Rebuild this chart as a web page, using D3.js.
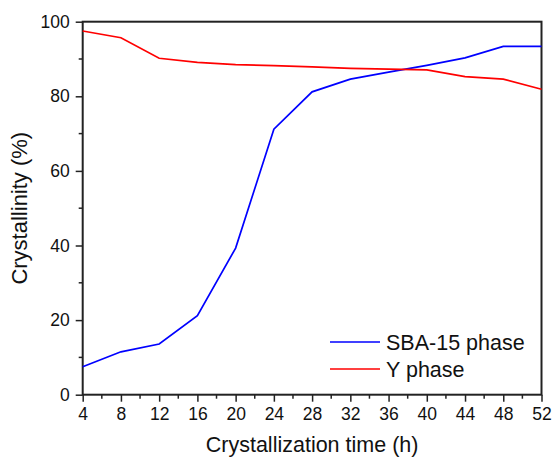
<!DOCTYPE html>
<html><head><meta charset="utf-8">
<script src="https://cdn.jsdelivr.net/npm/d3@7"></script>
<style>body{margin:0;background:#fff}svg{display:block}text{font-family:"Liberation Sans",Arial,sans-serif;fill:#111}</style>
</head><body><svg id="c" width="552" height="458"></svg>
<script>
const hours = [4,8,12,16,20,24,28,32,36,40,44,48,52];
const sbaValues = [7.5,11.5,13.6,21.2,39.3,71.2,81.2,84.6,86.5,88.3,90.3,93.4,93.4];
const yValues = [97.5,95.7,90.2,89.1,88.5,88.2,87.9,87.5,87.3,87.1,85.3,84.6,81.9];
const xTicks = [4,8,12,16,20,24,28,32,36,40,44,48,52];
const yTicks = [0,20,40,60,80,100];
const seriesNames = ["SBA-15 phase","Y phase"];
const seriesColors = ["#0000ff","#ff0000"];

const svg = d3.select("#c");
const L=82.7, R=541.5, T=21.7, B=394.7;
const x = d3.scaleLinear().domain([4,52]).range([L,R]);
const y = d3.scaleLinear().domain([0,100]).range([B,T]);

const xMinor = d3.range(6,52,4);
const yMinor = d3.range(10,100,20);
const g = svg.append("g");
g.selectAll(".xm").data(xMinor).enter().append("line")
 .attr("x1",d=>x(d)).attr("x2",d=>x(d)).attr("y1",B).attr("y2",B+4)
 .attr("stroke","#222").attr("stroke-width",1.5);
g.selectAll(".ym").data(yMinor).enter().append("line")
 .attr("y1",d=>y(d)).attr("y2",d=>y(d)).attr("x1",L).attr("x2",L-4)
 .attr("stroke","#222").attr("stroke-width",1.5);

const xAxis = svg.append("g").attr("transform",`translate(0,${B})`)
 .call(d3.axisBottom(x).tickValues(xTicks).tickSize(7).tickSizeOuter(0).tickPadding(6));
const yAxis = svg.append("g").attr("transform",`translate(${L},0)`)
 .call(d3.axisLeft(y).tickValues(yTicks).tickSize(7).tickSizeOuter(0).tickPadding(6));
[xAxis,yAxis].forEach(a=>{
  a.select(".domain").remove();
  a.selectAll(".tick line").attr("stroke","#222").attr("stroke-width",1.5);
  a.selectAll(".tick text").style("font-size","17.5px").attr("fill","#111");
});

svg.append("rect").attr("x",L).attr("y",T).attr("width",R-L).attr("height",B-T)
 .attr("fill","none").attr("stroke","#222").attr("stroke-width",2);

const line = d3.line().x((d,i)=>x(hours[i])).y(d=>y(d));
[sbaValues,yValues].forEach((vals,k)=>{
  svg.append("path").datum(vals).attr("d",line).attr("fill","none")
   .attr("stroke",seriesColors[k]).attr("stroke-width",1.7);
});

seriesNames.forEach((n,k)=>{
  const ly = 342 + k*27;
  svg.append("line").attr("x1",330).attr("x2",380).attr("y1",ly).attr("y2",ly)
   .attr("stroke",seriesColors[k]).attr("stroke-width",1.7);
  svg.append("text").attr("x",386).attr("y",ly+7.5).style("font-size","21.5px").text(n);
});

svg.append("text").attr("x",(L+R)/2).attr("y",452).attr("text-anchor","middle")
 .style("font-size","21.5px").text("Crystallization time (h)");
svg.append("text").attr("transform",`translate(27,${(T+B)/2}) rotate(-90)`)
 .attr("text-anchor","middle").style("font-size","22px").text("Crystallinity (%)");
</script></body></html>
